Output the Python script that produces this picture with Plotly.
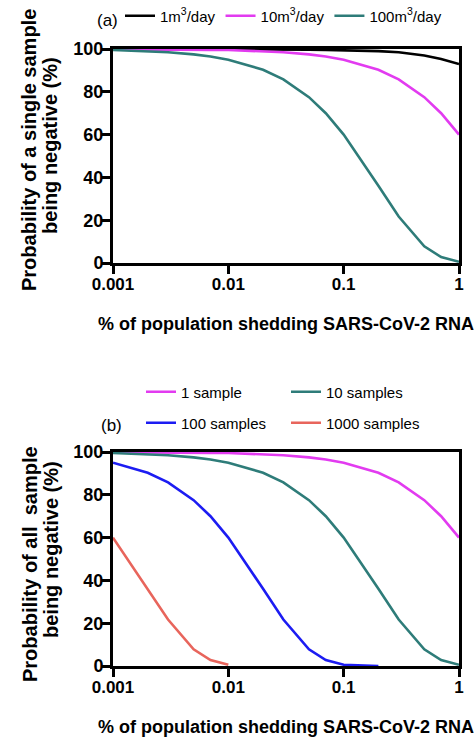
import plotly.graph_objects as go

# % of population shedding SARS-CoV-2 RNA
x_pct = [0.001, 0.002, 0.003, 0.005, 0.007, 0.01, 0.02, 0.03, 0.05, 0.07,
         0.1, 0.2, 0.3, 0.5, 0.7, 1]

# Panel (a): probability of a single sample being negative (%)
flow_1 = [100, 100, 100, 100, 100, 99.9, 99.9, 99.8, 99.7, 99.6,
          99.5, 99.0, 98.5, 97.0, 95.3, 93.0]
flow_10 = [99.9, 99.9, 99.8, 99.7, 99.6, 99.5, 99.0, 98.5, 97.5, 96.5,
           95.0, 90.3, 85.8, 77.5, 70.0, 60.0]
flow_100 = [99.5, 99.0, 98.5, 97.5, 96.5, 95.0, 90.3, 85.8, 77.5, 70.0,
            60.0, 36.1, 21.7, 7.8, 2.8, 0.6]

# Panel (b): probability of all samples being negative (%)
s1 = flow_10
s10 = flow_100
x_s100 = [0.001, 0.002, 0.003, 0.005, 0.007, 0.01, 0.02, 0.03, 0.05, 0.07, 0.1, 0.2]
s100 = [95.0, 90.3, 85.8, 77.5, 70.0, 60.0, 36.1, 21.7, 7.8, 2.8, 0.6, 0.0]
x_s1000 = [0.001, 0.002, 0.003, 0.005, 0.007, 0.01]
s1000 = [60.0, 36.1, 21.7, 7.8, 2.8, 0.6]

x_ticks = [0.001, 0.01, 0.1, 1]
x_ticklabels = ["0.001", "0.01", "0.1", "1"]
y_ticks = [0, 20, 40, 60, 80, 100]

BLACK = "#000000"
MAGENTA = "#E23BF0"
TEAL = "#2E7C79"
BLUE = "#1C1CF2"
RED = "#E8655C"

FONT = "Arial, Liberation Sans, sans-serif"

W, H = 475, 738
ML, MR, MT, MB = 113, 16, 49, 72
plot_w = W - ML - MR
plot_h = H - MT - MB


def ypaper(px):
    return (H - MB - px) / plot_h


def xpaper(px):
    return (px - ML) / plot_w


fig = go.Figure()
lw = 2.6
fig.add_trace(go.Scatter(x=x_pct, y=flow_1, mode="lines", name="1m<sup>3</sup>/day",
                         line=dict(color=BLACK, width=lw), xaxis="x", yaxis="y", legend="legend"))
fig.add_trace(go.Scatter(x=x_pct, y=flow_10, mode="lines", name="10m<sup>3</sup>/day",
                         line=dict(color=MAGENTA, width=lw), xaxis="x", yaxis="y", legend="legend"))
fig.add_trace(go.Scatter(x=x_pct, y=flow_100, mode="lines", name="100m<sup>3</sup>/day",
                         line=dict(color=TEAL, width=lw), xaxis="x", yaxis="y", legend="legend"))

fig.add_trace(go.Scatter(x=x_pct, y=s1, mode="lines", name="1 sample",
                         line=dict(color=MAGENTA, width=lw), xaxis="x2", yaxis="y2", legend="legend2"))
fig.add_trace(go.Scatter(x=x_pct, y=s10, mode="lines", name="10 samples",
                         line=dict(color=TEAL, width=lw), xaxis="x2", yaxis="y2", legend="legend2"))
fig.add_trace(go.Scatter(x=x_s100, y=s100, mode="lines", name="100 samples",
                         line=dict(color=BLUE, width=lw), xaxis="x2", yaxis="y2", legend="legend3"))
fig.add_trace(go.Scatter(x=x_s1000, y=s1000, mode="lines", name="1000 samples",
                         line=dict(color=RED, width=lw), xaxis="x2", yaxis="y2", legend="legend3"))

xaxis_common = dict(
    type="log", range=[-3, 0], tickvals=x_ticks, ticktext=x_ticklabels,
    showgrid=False, zeroline=False, showline=True, linecolor="black", linewidth=3,
    mirror=True, ticks="outside", ticklen=8, tickwidth=3, tickcolor="black",
    ticklabelstandoff=-4,
    tickfont=dict(family=FONT, size=17, color="black", weight="bold"),
    title=dict(text="% of population shedding SARS-CoV-2 RNA", standoff=24,
               font=dict(family=FONT, size=18, color="black", weight="bold")),
)
yaxis_common = dict(
    range=[0, 100], tickvals=y_ticks,
    showgrid=False, zeroline=False, showline=True, linecolor="black", linewidth=3,
    mirror=True, ticks="outside", ticklen=8, tickwidth=3, tickcolor="black",
    ticklabelstandoff=-5,
    tickfont=dict(family=FONT, size=18, color="black", weight="bold"),
)

title_font = dict(family=FONT, size=20, color="black", weight="bold")
label_font = dict(family=FONT, size=17, color="black")
legend_font = dict(family=FONT, size=15, color="black")


def ylabel(text, xpx, ypx):
    return dict(text=text, x=xpaper(xpx), xref="paper", y=ypaper(ypx), yref="paper",
                showarrow=False, textangle=-90, xanchor="center", yanchor="middle",
                font=title_font)


def hlegend(xpx, ypx, **kw):
    return dict(orientation="h", x=xpaper(xpx), xanchor="left", y=ypaper(ypx), yref="paper",
                yanchor="middle", font=legend_font, itemwidth=30,
                bgcolor="rgba(0,0,0,0)", traceorder="normal", **kw)


fig.update_layout(
    width=W, height=H,
    margin=dict(l=ML, r=MR, t=MT, b=MB, autoexpand=False),
    paper_bgcolor="white", plot_bgcolor="white",
    font=dict(family=FONT, color="black"),
    showlegend=True,
    xaxis=dict(**xaxis_common, domain=[0, 1], anchor="y"),
    yaxis=dict(**yaxis_common, domain=[ypaper(263), 1], anchor="x"),
    xaxis2=dict(**xaxis_common, domain=[0, 1], anchor="y2"),
    yaxis2=dict(**yaxis_common, domain=[0, ypaper(452)], anchor="x2"),
    legend=hlegend(120, 16),
    legend2=hlegend(141, 392, entrywidth=100, entrywidthmode="pixels"),
    legend3=hlegend(141, 423, entrywidth=100, entrywidthmode="pixels"),
    annotations=[
        dict(text="(a)", x=xpaper(107), xref="paper", y=ypaper(21), yref="paper", showarrow=False,
             xanchor="center", yanchor="middle", font=label_font),
        dict(text="(b)", x=xpaper(111), xref="paper", y=ypaper(425), yref="paper", showarrow=False,
             xanchor="center", yanchor="middle", font=label_font),
        ylabel("Probability of a single sample", 29, 150),
        ylabel("being negative (%)", 50, 146),
        ylabel("Probability of all\u00a0 sample", 30, 564),
        ylabel("being negative (%)", 51, 550),
    ],
)

fig.write_html("out.html", post_script="document.body.style.margin='0';",
               config={"displayModeBar": False})
